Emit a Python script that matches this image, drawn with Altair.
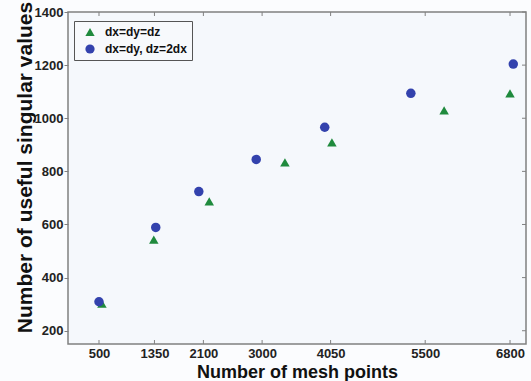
import altair as alt
import pandas as pd

series_names = ["dx=dy=dz", "dx=dy, dz=2dx"]
mesh_equal = [545, 1340, 2190, 3350, 4070, 5790, 6800]
sv_equal = [302, 543, 687, 834, 909, 1030, 1094]
mesh_aniso = [500, 1370, 2030, 2910, 3960, 5280, 6850]
sv_aniso = [309, 589, 724, 845, 966, 1094, 1204]
x_ticks = [500, 1350, 2100, 3000, 4050, 5500, 6800]
y_ticks = [200, 400, 600, 800, 1000, 1200, 1400]

df = pd.DataFrame({
    "mesh": mesh_equal + mesh_aniso,
    "sv": sv_equal + sv_aniso,
    "series": [series_names[0]] * len(mesh_equal) + [series_names[1]] * len(mesh_aniso),
})
xt = pd.DataFrame({"mesh": x_ticks})
yt = pd.DataFrame({"sv": y_ticks})

W, H = 458, 332
FONT = "Liberation Sans"
AX = "#808080"
xs = alt.Scale(domain=[25, 7045], nice=False, zero=False)
ys = alt.Scale(domain=[150, 1400], nice=False, zero=False)

x_axis = alt.Axis(values=x_ticks, format="d", ticks=False, domain=False, grid=False,
                  labelFont=FONT, labelFontWeight="bold", labelFontSize=13,
                  labelPadding=3, labelColor="#222222",
                  title="Number of mesh points", titleFont=FONT,
                  titleFontSize=18, titleFontWeight="bold", titleColor="#111111",
                  titleX=W / 2, titleY=33, titleBaseline="alphabetic")
y_axis = alt.Axis(values=y_ticks, format="d", ticks=True, tickSize=4, tickColor=AX, tickWidth=1,
                  domain=False, grid=False,
                  labelFont=FONT, labelFontWeight="bold", labelFontSize=13,
                  labelPadding=1, labelColor="#222222",
                  title="Number of useful singular values", titleFont=FONT,
                  titleFontSize=21, titleFontWeight="bold", titleColor="#111111",
                  titleX=-37, titleY=155, titleBaseline="alphabetic", titleAngle=270)

legend = alt.Legend(title=None, orient="none", legendX=6, legendY=9,
                    fillColor="#f7f9fc", strokeColor="#555555", padding=5,
                    symbolOffset=5, labelFont=FONT, labelFontSize=12,
                    labelFontWeight="bold", labelColor="#111111",
                    symbolSize=85, rowPadding=5, labelOffset=9)

points = alt.Chart(df).mark_point(filled=True, size=90, opacity=1).encode(
    x=alt.X("mesh:Q", scale=xs, axis=x_axis),
    y=alt.Y("sv:Q", scale=ys, axis=y_axis),
    color=alt.Color("series:N", scale=alt.Scale(domain=series_names, range=["#1f8a3d", "#3342ad"]), legend=legend),
    shape=alt.Shape("series:N", scale=alt.Scale(domain=series_names, range=["triangle-up", "circle"]), legend=legend),
)

bottom_ticks = alt.Chart(xt).mark_rule(color=AX, strokeWidth=1).encode(
    x=alt.X("mesh:Q", scale=xs), y=alt.value(H), y2=alt.value(H - 4))
top_ticks = alt.Chart(xt).mark_rule(color=AX, strokeWidth=1).encode(
    x=alt.X("mesh:Q", scale=xs), y=alt.value(0), y2=alt.value(4))
right_ticks = alt.Chart(yt).mark_rule(color=AX, strokeWidth=1).encode(
    y=alt.Y("sv:Q", scale=ys), x=alt.value(W), x2=alt.value(W - 4))

chart = alt.layer(bottom_ticks, top_ticks, right_ticks, points).properties(
    width=W, height=H,
    autosize=alt.AutoSizeParams(type="none"),
    padding={"left": 68, "top": 12, "right": 5, "bottom": 37},
    background="#fbfcfe",
).configure_view(stroke=AX, strokeWidth=1.5, fill="#f5f8fc")

chart.save("out.html", embed_options={"renderer": "svg", "actions": False})
